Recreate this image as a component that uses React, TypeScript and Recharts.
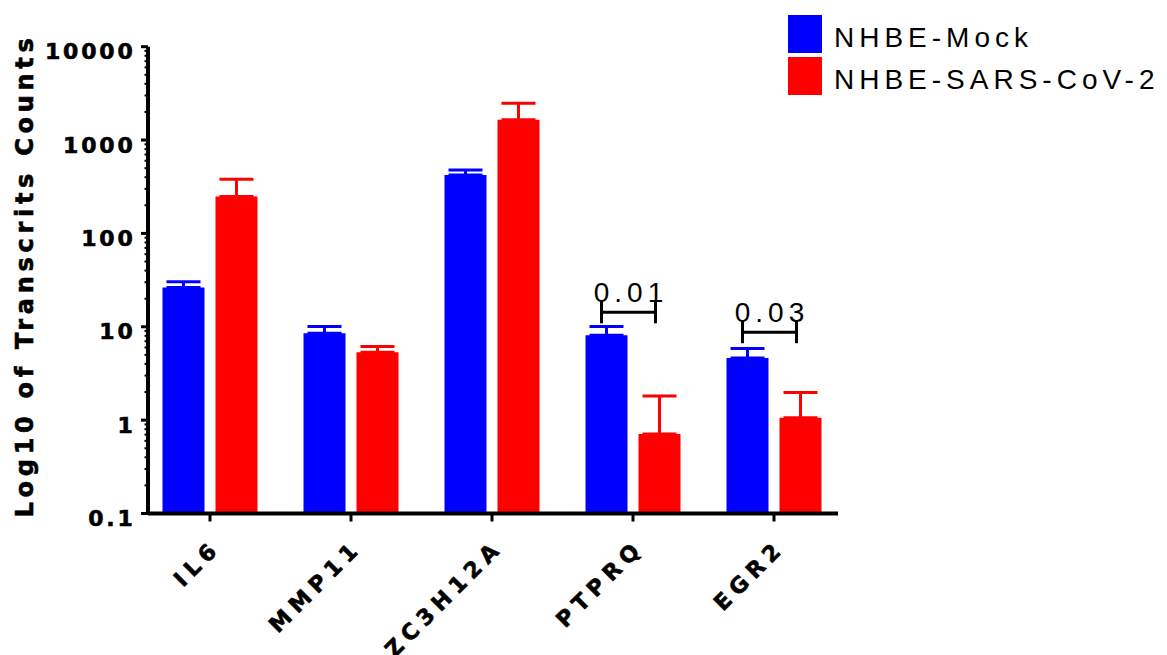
import React from "react";
import { BarChart, Bar, XAxis, YAxis, ErrorBar, LabelList, Legend } from "recharts";

const categories = ["IL6", "MMP11", "ZC3H12A", "PTPRQ", "EGR2"];
const mockMean = [26.3, 8.5, 423, 8.1, 4.64];
const mockTop = [30.3, 10.05, 478, 10.05, 5.85];
const covMean = [248, 5.35, 1653, 0.71, 1.06];
const covTop = [380, 6.14, 2477, 1.81, 1.98];

const decades = [0.1, 1, 10, 100, 1000];
const minorSteps = [1, 2, 3, 4, 5, 6, 7, 8, 9];
const yTicks = [...decades.flatMap((d) => minorSteps.map((m) => d * m)), 10000];

const pValues = [
  { gene: "PTPRQ", text: "0.01", level: 14.3 },
  { gene: "EGR2", text: "0.03", level: 8.75 },
];

const series = [
  { key: "mock", name: "NHBE-Mock", color: "#0000ff" },
  { key: "cov", name: "NHBE-SARS-CoV-2", color: "#ff0000" },
];

const rows = categories.map((gene, i) => ({
  gene,
  mock: mockMean[i],
  mockErr: [0, mockTop[i] - mockMean[i]],
  cov: covMean[i],
  covErr: [0, covTop[i] - covMean[i]],
}));

const FONT = "Arial, 'Liberation Sans', sans-serif";
const BOLD_FONT = "'DejaVu Sans', sans-serif";
const Y_MIN = 0.1;
const BAR_SIZE = 42;
const BAR_GAP = 11;

const YTick = ({ x, y, payload }: any) => {
  const v = payload.value;
  const lg = Math.log10(v);
  const major = Math.abs(lg - Math.round(lg)) < 1e-6;
  return (
    <g>
      <line x1={x - (major ? 7 : 3.5)} x2={x} y1={y} y2={y} stroke="#000" strokeWidth={major ? 3 : 2} />
      {major && (
        <text x={x - 12.5} y={y + 12.5} textAnchor="end" fontFamily={BOLD_FONT} fontSize={22} fontWeight="bold"
          letterSpacing={2.8} fill="#000" stroke="#000" strokeWidth={0.6}>
          {String(Math.round(v * 10) / 10)}
        </text>
      )}
    </g>
  );
};

const XTick = ({ x, y, payload }: any) => {
  const ax = x + 12.2;
  const ay = y + 27.3;
  return (
    <text x={ax} y={ay} transform={`rotate(-45 ${ax} ${ay})`} textAnchor="end" fontFamily={BOLD_FONT} fontSize={22}
      fontWeight="bold" letterSpacing={6} fill="#000" stroke="#000" strokeWidth={0.6}>
      {payload.value}
    </text>
  );
};

const YLabel = () => (
  <text x={33} y={517.4} transform="rotate(-90 33 517.4)" textAnchor="start" fontFamily={BOLD_FONT} fontSize={24}
    fontWeight="bold" letterSpacing={4.7} fill="#000" stroke="#000" strokeWidth={0.6}>
    Log10 of Transcrits Counts
  </text>
);

const renderBracket = (props: any) => {
  const vb = props.viewBox ?? props;
  const index = props.index ?? mockMean.indexOf(props.value);
  const p = pValues.find((q) => q.gene === categories[index]);
  if (!p) return null;
  const { x, y, width, height } = vb;
  const bottom = y + height;
  const perDecade = height / (Math.log10(mockMean[index]) - Math.log10(Y_MIN));
  const yl = bottom - perDecade * (Math.log10(p.level) - Math.log10(Y_MIN));
  const x1 = x + width / 2 - 5;
  const x2 = x + width * 1.5 + BAR_GAP - 4;
  return (
    <g>
      <line x1={x1} x2={x2} y1={yl} y2={yl} stroke="#000" strokeWidth={3} />
      <line x1={x1} x2={x1} y1={yl - 11} y2={yl + 11} stroke="#000" strokeWidth={3} />
      <line x1={x2} x2={x2} y1={yl - 11} y2={yl + 11} stroke="#000" strokeWidth={3} />
      <text x={(x1 + x2) / 2 + 2.5} y={yl - 10.6} textAnchor="middle" fontFamily={FONT} fontSize={28} letterSpacing={5} fill="#000">
        {p.text}
      </text>
    </g>
  );
};

const LegendBox = () => (
  <div style={{ fontFamily: FONT, fontSize: 28, letterSpacing: 5, color: "#000", whiteSpace: "nowrap" }}>
    {series.map((s) => (
      <div key={s.key} style={{ display: "flex", alignItems: "center", height: 38, marginBottom: 4.3 }}>
        <div style={{ width: 34, height: 38, background: s.color }} />
        <span style={{ marginLeft: 12.3, lineHeight: "38px", position: "relative", top: 4 }}>{s.name}</span>
      </div>
    ))}
  </div>
);

export default function App() {
  return (
    <div style={{ position: "absolute", left: 0, top: 0, background: "#fff" }}>
      <BarChart
        width={1167}
        height={655}
        data={rows}
        barSize={BAR_SIZE}
        barGap={BAR_GAP}
        margin={{ top: 46.7, right: 329, bottom: 41.5, left: 48 }}
      >
        <XAxis
          dataKey="gene"
          height={100}
          padding={{ left: -8.5, right: -6.5 }}
          interval={0}
          tick={<XTick />}
          tickSize={8}
          tickMargin={0}
          tickLine={{ stroke: "#000", strokeWidth: 3 }}
          axisLine={{ stroke: "#000", strokeWidth: 4 }}
        />
        <YAxis
          scale="log"
          domain={[Y_MIN, 10000]}
          allowDataOverflow
          ticks={yTicks}
          interval={0}
          width={100}
          tick={<YTick />}
          tickLine={false}
          tickSize={0}
          tickMargin={0}
          axisLine={{ stroke: "#000", strokeWidth: 4 }}
          label={<YLabel />}
        />
        <Legend
          layout="vertical"
          align="center"
          verticalAlign="middle"
          content={<LegendBox />}
          wrapperStyle={{ left: 787.7, top: 15, width: 379 }}
        />
        <Bar dataKey="mock" name="NHBE-Mock" fill="#0000ff" isAnimationActive={false}>
          <ErrorBar dataKey="mockErr" direction="y" width={17} stroke="#0000ff" strokeWidth={3} />
          <LabelList dataKey="mock" content={renderBracket} />
        </Bar>
        <Bar dataKey="cov" name="NHBE-SARS-CoV-2" fill="#ff0000" isAnimationActive={false}>
          <ErrorBar dataKey="covErr" direction="y" width={17} stroke="#ff0000" strokeWidth={3} />
        </Bar>
      </BarChart>
    </div>
  );
}
